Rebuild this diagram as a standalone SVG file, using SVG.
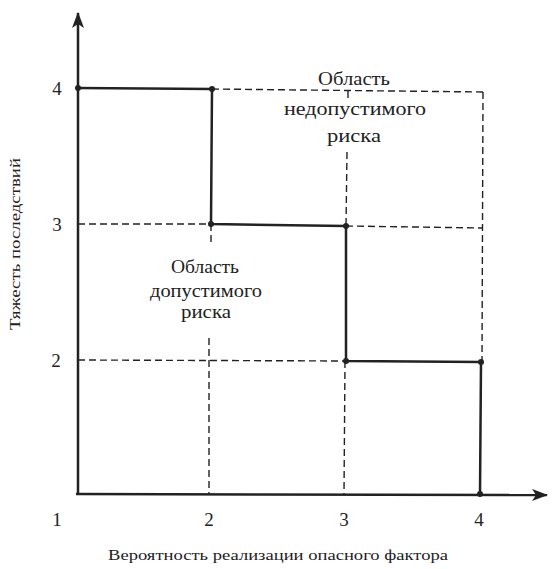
<svg xmlns="http://www.w3.org/2000/svg" width="552" height="569" viewBox="0 0 552 569">
<style>
.ax{stroke:#222;stroke-width:2.5;fill:none}
.st{stroke:#222;stroke-width:2.5;fill:none;stroke-linejoin:round}
.ds{stroke:#222;stroke-width:1.4;fill:none;stroke-dasharray:7 4}
.dt{fill:#222}
.t{font-family:"Liberation Serif","Times New Roman",serif;fill:#222}
.n{font-size:19px;text-anchor:middle}
.lb{font-size:18px;text-anchor:middle}
</style>
<defs>
<marker id="ar" viewBox="0 0 16 12" refX="15" refY="6" markerWidth="16" markerHeight="12" markerUnits="userSpaceOnUse" orient="auto">
<path d="M0,0 L16,6 L0,12 L4,6 Z" fill="#222"/>
</marker>
</defs>
<rect width="552" height="569" fill="#fff"/>
<g id="connectors">
<line class="ds" x1="212" y1="89" x2="483" y2="92"/>
<line class="ds" x1="483" y1="92" x2="482" y2="362"/>
<line class="ds" x1="78" y1="224" x2="211" y2="224"/>
<line class="ds" x1="346" y1="226" x2="482" y2="228"/>
<line class="ds" x1="78" y1="360" x2="346" y2="361"/>
<line class="ds" x1="211" y1="224" x2="211" y2="246"/>
<line class="ds" x1="209" y1="338" x2="209" y2="494"/>
<line class="ds" x1="348" y1="91" x2="348" y2="98"/>
<line class="ds" x1="347" y1="152" x2="346" y2="226"/>
<line class="ds" x1="345" y1="361" x2="344" y2="494"/>
<polyline class="st" points="78,88 212,89 211,224 346,226 346,361 481,362 480,494"/>
<line class="ax" x1="78" y1="494" x2="78" y2="13" marker-end="url(#ar)"/>
<line class="ax" x1="76" y1="494" x2="547" y2="495" marker-end="url(#ar)"/>
<circle class="dt" cx="78" cy="88" r="3"/>
<circle class="dt" cx="212" cy="89" r="3"/>
<circle class="dt" cx="211" cy="224" r="3"/>
<circle class="dt" cx="346" cy="226" r="3"/>
<circle class="dt" cx="346" cy="361" r="3"/>
<circle class="dt" cx="481" cy="362" r="3"/>
<circle class="dt" cx="480" cy="494" r="3"/>
</g>
<g id="y-ticks">
<text class="t n" x="57" y="95">4</text>
<text class="t n" x="57" y="231">3</text>
<text class="t n" x="56" y="367">2</text>
</g>
<g id="x-ticks">
<text class="t n" x="57" y="526">1</text>
<text class="t n" x="209" y="526">2</text>
<text class="t n" x="344" y="526">3</text>
<text class="t n" x="479" y="526">4</text>
</g>
<g id="area-unacceptable">
<text class="t lb" x="354" y="85" textLength="72" lengthAdjust="spacingAndGlyphs">Область</text>
<text class="t lb" x="355" y="115" textLength="142" lengthAdjust="spacingAndGlyphs">недопустимого</text>
<text class="t lb" x="354" y="142" textLength="54" lengthAdjust="spacingAndGlyphs">риска</text>
</g>
<g id="area-acceptable">
<text class="t lb" x="205" y="273" textLength="68" lengthAdjust="spacingAndGlyphs">Область</text>
<text class="t lb" x="206" y="297" textLength="112" lengthAdjust="spacingAndGlyphs">допустимого</text>
<text class="t lb" x="206" y="318" textLength="50" lengthAdjust="spacingAndGlyphs">риска</text>
</g>
<g id="axis-labels">
<text class="t" x="278" y="560" font-size="15" text-anchor="middle" textLength="340" lengthAdjust="spacingAndGlyphs">Вероятность реализации опасного фактора</text>
<text class="t" transform="translate(20,244) rotate(-90)" font-size="15" text-anchor="middle" textLength="172" lengthAdjust="spacingAndGlyphs">Тяжесть последствий</text>
</g>
</svg>
